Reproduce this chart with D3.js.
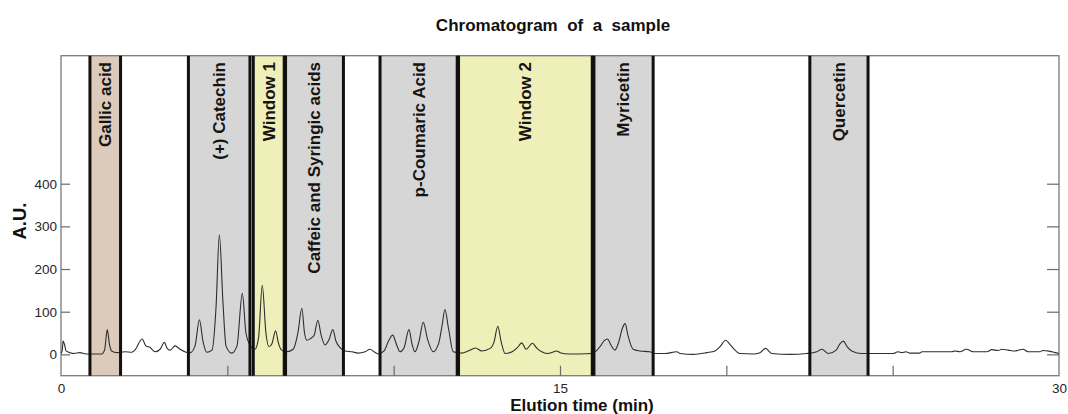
<!DOCTYPE html>
<html>
<head>
<meta charset="utf-8">
<script src="https://cdn.jsdelivr.net/npm/d3@7"></script>
<style>
  html, body { margin: 0; padding: 0; background: #fff; }
  svg { display: block; font-family: "Liberation Sans", Arial, sans-serif; }
</style>
</head>
<body>
<svg id="chart" width="1068" height="414"></svg>
<script>
// Elution time (min) and detector response (A.U.) of the sample trace
const elutionTime = [
  0, 0.04, 0.06, 0.11, 0.15, 0.27, 0.39, 0.57, 0.75, 1.02,
  1.22, 1.31, 1.39, 1.46, 1.52, 1.68, 1.92, 2.13, 2.22, 2.44,
  2.55, 2.68, 2.83, 2.98, 3.11, 3.19, 3.28, 3.43, 3.58, 3.76,
  3.88, 4.03, 4.16, 4.27, 4.38, 4.54, 4.66, 4.76, 4.87, 4.96,
  5.13, 5.29, 5.45, 5.56, 5.68, 5.83, 5.94, 6.05, 6.16, 6.25,
  6.34, 6.45, 6.54, 6.63, 6.78, 6.98, 7.12, 7.24, 7.32, 7.39,
  7.50, 7.61, 7.72, 7.82, 7.94, 8.06, 8.17, 8.27, 8.39, 8.54,
  8.75, 8.93, 9.14, 9.29, 9.41, 9.54, 9.71, 9.84, 9.97, 10.09,
  10.19, 10.31, 10.46, 10.55, 10.64, 10.76, 10.89, 11.02, 11.19, 11.35,
  11.46, 11.54, 11.65, 11.79, 11.94, 12.05, 12.24, 12.46, 12.65, 12.90,
  13.02, 13.13, 13.23, 13.35, 13.56, 13.71, 13.85, 13.98, 14.17, 14.31,
  14.45, 14.60, 14.73, 14.90, 15.03, 15.25, 15.60, 15.96, 16.09, 16.22,
  16.33, 16.43, 16.53, 16.65, 16.77, 16.87, 16.96, 17.04, 17.20, 17.40,
  17.70, 17.86, 18.16, 18.51, 18.61, 19.01, 19.41, 19.66, 19.81, 19.98,
  20.10, 20.21, 20.41, 20.81, 21.01, 21.18, 21.36, 21.91, 22.42, 22.72,
  22.87, 23.07, 23.30, 23.42, 23.52, 23.63, 23.77, 24.07, 25.01, 25.16,
  25.28, 25.40, 25.52, 25.82, 25.88, 26.78, 26.87, 27.02, 27.22, 27.42,
  27.83, 27.98, 28.17, 28.28, 28.47, 28.68, 28.92, 29.07, 29.43, 29.51,
  29.73, 29.88, 30
];
const absorbance = [
  2, 10, 31, 22, 8, 4, 2, 4, 1, 1,
  1, 10, 58, 22, 8, 4, 6, 5, 10, 36,
  20, 16, 6, 12, 28, 14, 10, 20, 12, 5,
  4, 20, 81, 30, 5, 10, 110, 280, 120, 20,
  3, 20, 143, 50, 22, 12, 40, 162, 50, 18,
  25, 55, 25, 10, 6, 12, 50, 108, 50, 33,
  37, 45, 80, 45, 22, 35, 58, 30, 16, 8,
  6, 3, 6, 12, 6, 1, 8, 30, 45, 22,
  6, 15, 58, 25, 6, 30, 75, 35, 6, 25,
  70, 105, 60, 6, 4, 3, 8, 15, 8, 14,
  30, 66, 30, 2, 6, 15, 27, 12, 26, 14,
  6, 2, 4, 8, 3, 1, 1, 2, 8, 20,
  32, 36, 22, 10, 30, 60, 72, 45, 12, 8,
  6, 2, 2, 6, 2, 0, 4, 8, 18, 33,
  24, 14, 2, 1, 4, 14, 2, 0, 2, 6,
  12, 2, 10, 25, 31, 18, 8, 2, 2, 6,
  4, 6, 3, 3, 6, 6, 8, 6, 12, 6,
  6, 11, 9, 12, 10, 8, 12, 6, 6, 9,
  7, 4, 2
];

// Shaded elution windows
const bandNames = ["Gallic acid", "(+) Catechin", "Window 1", "Caffeic and Syringic acids",
                   "p-Coumaric Acid", "Window 2", "Myricetin", "Quercetin"];
const bandStart = [0.87, 3.83, 5.78, 6.75, 9.59, 11.95, 16.02, 22.51];
const bandEnd   = [1.79, 5.68, 6.71, 8.49, 11.91, 15.97, 17.80, 24.26];
const bandKind  = ["reference", "compound", "window", "compound",
                   "compound", "window", "compound", "compound"];

// Axis ticks
const yTickValues = [0, 100, 200, 300, 400];
const xTickValues = [0, 5, 10, 15, 20, 25, 30];
const xTickLabels = [0, 15, 30];

const svg = d3.select("#chart");
const margin = { left: 61, right: 9, top: 55.7, bottom: 38.3 };
const W = 1068, H = 414;

const x = d3.scaleLinear().domain([0, 30]).range([margin.left, W - margin.right]);
const y = d3.scaleLinear().domain([-50, 700]).range([H - margin.bottom, margin.top]);

const kindColor = d3.scaleOrdinal()
  .domain(["reference", "compound", "window"])
  .range(["#dccabb", "#d6d6d6", "#efefb9"]);

const bands = bandNames.map((name, i) => ({
  name, start: bandStart[i], end: bandEnd[i], kind: bandKind[i]
}));

// Band fills
svg.append("g").selectAll("rect").data(bands).join("rect")
  .attr("x", d => x(d.start))
  .attr("width", d => x(d.end) - x(d.start))
  .attr("y", y(700))
  .attr("height", y(-50) - y(700))
  .attr("fill", d => kindColor(d.kind));

// Frame
svg.append("rect")
  .attr("x", x(0)).attr("y", y(700))
  .attr("width", x(30) - x(0)).attr("height", y(-50) - y(700))
  .attr("fill", "none").attr("stroke", "#7a7a7a").attr("stroke-width", 1.3);

// Axes: ticks pointing into the plot
const tickStyle = g => {
  g.select(".domain").remove();
  g.selectAll(".tick line").attr("stroke", "#6a6a6a").attr("stroke-width", 1.2);
  g.selectAll(".tick text").attr("fill", "#262626").style("font-size", "13.5px");
};

svg.append("g")
  .attr("transform", `translate(${x(0)},0)`)
  .call(d3.axisLeft(y).tickValues(yTickValues).tickSize(-9).tickPadding(4))
  .call(tickStyle);

svg.append("g")
  .attr("transform", `translate(${x(30)},0)`)
  .call(d3.axisRight(y).tickValues(yTickValues).tickSize(-12).tickFormat(""))
  .call(tickStyle);

svg.append("g")
  .attr("transform", `translate(0,${y(-50)})`)
  .call(d3.axisBottom(x).tickValues(xTickValues).tickSize(-10).tickPadding(8)
    .tickFormat(d => xTickLabels.includes(d) ? d : ""))
  .call(tickStyle)
  .call(g => g.selectAll(".tick line").filter(d => d === 0 || d === 30).remove());

// Chromatogram trace
const trace = elutionTime.map((t, i) => [t, absorbance[i]]);
svg.append("path")
  .datum(trace)
  .attr("fill", "none")
  .attr("stroke", "#2e2e2e")
  .attr("stroke-width", 1.1)
  .attr("stroke-linejoin", "round")
  .attr("d", d3.line().x(d => x(d[0])).y(d => y(d[1])).curve(d3.curveMonotoneX));

// Band edges
const edges = bands.flatMap(d => [d.start, d.end]);
svg.append("g").selectAll("line").data(edges).join("line")
  .attr("x1", d => x(d)).attr("x2", d => x(d))
  .attr("y1", y(700)).attr("y2", y(-50))
  .attr("stroke", "#111").attr("stroke-width", 3);

// Band labels, written upward from the top of each band
svg.append("g").selectAll("text").data(bands).join("text")
  .attr("transform", d => `translate(${x((d.start + d.end) / 2)},62) rotate(-90)`)
  .attr("text-anchor", "end")
  .attr("dy", "0.35em")
  .attr("fill", "#141414")
  .style("font-size", "17px")
  .style("font-weight", "bold")
  .text(d => d.name);

// Titles
svg.append("text")
  .attr("x", 553).attr("y", 31)
  .attr("text-anchor", "middle")
  .attr("fill", "#111")
  .style("font-size", "17px").style("font-weight", "bold")
  .style("white-space", "pre")
  .text("Chromatogram  of  a  sample");

svg.append("text")
  .attr("x", 582).attr("y", 411)
  .attr("text-anchor", "middle")
  .attr("fill", "#111")
  .style("font-size", "17px").style("font-weight", "bold")
  .text("Elution time (min)");

svg.append("text")
  .attr("transform", "translate(20,221) rotate(-90)")
  .attr("text-anchor", "middle")
  .attr("dy", "0.35em")
  .attr("fill", "#111")
  .style("font-size", "18.5px").style("font-weight", "bold")
  .text("A.U.");
</script>
</body>
</html>
